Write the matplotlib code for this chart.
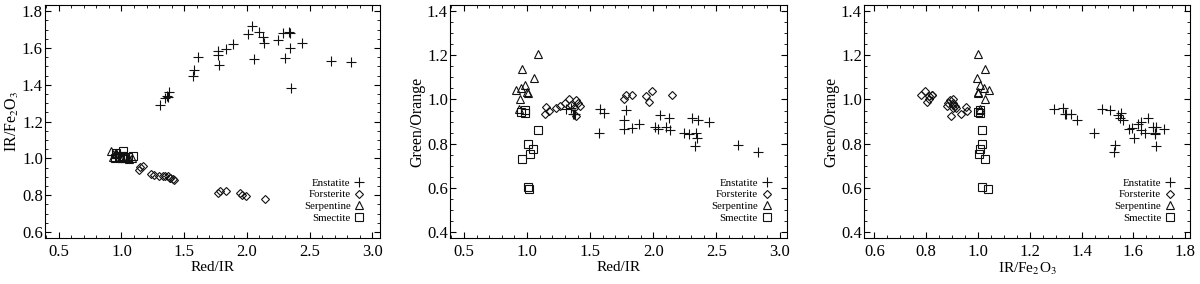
import numpy as np
import matplotlib
matplotlib.use("Agg")
import matplotlib.pyplot as plt
from matplotlib.ticker import MultipleLocator

plt.rcParams['font.family'] = ['Liberation Serif', 'DejaVu Serif']
plt.rcParams['mathtext.fontset'] = 'stix'

# per-sample ratios: Red/IR, IR/Fe2O3, Green/Orange
ens_red_ir = [1.31, 1.35, 1.36, 1.37, 1.38, 1.57, 1.58, 1.61, 1.77, 1.77, 1.78, 1.83, 1.89,
              2.01, 2.04, 2.055, 2.10, 2.127, 2.135, 2.246, 2.286, 2.307, 2.333, 2.344, 2.352,
              2.437, 2.34, 2.669, 2.828]
ens_ir_fe = [1.292, 1.33, 1.34, 1.335, 1.36, 1.446, 1.479, 1.552, 1.561, 1.584, 1.51, 1.595, 1.619,
             1.677, 1.718, 1.541, 1.688, 1.657, 1.628, 1.646, 1.682, 1.548, 1.688, 1.602, 1.383,
             1.628, 1.684, 1.528, 1.524]
ens_g_o = [0.955, 0.96, 0.935, 0.933, 0.932, 0.849, 0.959, 0.94, 0.909, 0.868, 0.951, 0.871, 0.888,
           0.876, 0.868, 0.929, 0.876, 0.917, 0.86, 0.849, 0.845, 0.918, 0.79, 0.826, 0.909,
           0.898, 0.849, 0.793, 0.76]

for_red_ir = [1.143, 1.148, 1.175, 1.233, 1.259, 1.302, 1.333, 1.35, 1.373, 1.385, 1.39, 1.407,
              1.418, 1.77, 1.783, 1.831, 1.942, 1.963, 1.99, 2.148]
for_ir_fe = [0.935, 0.953, 0.959, 0.917, 0.912, 0.905, 0.903, 0.905, 0.903, 0.895, 0.893, 0.885,
             0.881, 0.812, 0.823, 0.821, 0.812, 0.803, 0.794, 0.781]
for_g_o = [0.936, 0.966, 0.947, 0.962, 0.969, 0.985, 1.0, 0.974, 0.963, 0.924, 0.997, 0.982,
           0.969, 1.0, 1.022, 1.02, 1.015, 0.989, 1.037, 1.02]

serp_red_ir = [1.085, 0.958, 1.059, 0.984, 0.953, 0.913, 0.945, 0.998, 1.005, 0.935]
serp_ir_fe = [1.0, 1.028, 0.996, 1.009, 1.022, 1.041, 1.026, 1.0, 1.0, 1.006]
serp_g_o = [1.204, 1.14, 1.095, 1.065, 1.054, 1.042, 1.0, 1.034, 1.03, 0.959]

smec_red_ir = [1.09, 0.96, 1.006, 1.02, 1.05, 1.01, 1.012, 0.98, 0.985, 0.95]
smec_ir_fe = [1.015, 1.028, 1.015, 1.003, 1.009, 1.015, 1.04, 1.006, 1.006, 1.0]
smec_g_o = [0.864, 0.732, 0.80, 0.755, 0.775, 0.604, 0.594, 0.951, 0.94, 0.945]

groups = [
    ("Enstatite", "+", ens_red_ir, ens_ir_fe, ens_g_o),
    ("Forsterite", "D", for_red_ir, for_ir_fe, for_g_o),
    ("Serpentine", "^", serp_red_ir, serp_ir_fe, serp_g_o),
    ("Smectite", "s", smec_red_ir, smec_ir_fe, smec_g_o),
]
msize = {"+": 7, "D": 4, "^": 5.5, "s": 5.5}

fig = plt.figure(figsize=(12, 2.84), dpi=100)
ax1 = fig.add_axes([0.0375, 0.162, 0.279, 0.820])
ax2 = fig.add_axes([0.375, 0.162, 0.281, 0.820])
ax3 = fig.add_axes([0.72, 0.162, 0.272, 0.820])

panels = [
    (ax1, 2, 3, "Red/IR", "IR/Fe$_2$O$_3$"),
    (ax2, 2, 4, "Red/IR", "Green/Orange"),
    (ax3, 3, 4, "IR/Fe$_2$O$_3$", "Green/Orange"),
]

for ax, ix, iy, xl, yl in panels:
    for g in groups:
        ax.plot(g[ix], g[iy], linestyle="none", marker=g[1], markersize=msize[g[1]],
                markerfacecolor="none", markeredgecolor="#111111", markeredgewidth=0.8,
                label=g[0])
    ax.set_xlabel(xl, fontsize=11, labelpad=1)
    ax.set_ylabel(yl, fontsize=11.5, labelpad=1)
    ax.tick_params(which="both", direction="in", top=True, right=True, labelsize=12)
    ax.tick_params(which="major", length=4, width=0.8)
    ax.tick_params(axis="y", which="major", pad=1.5)
    ax.tick_params(axis="x", which="major", pad=4)
    ax.tick_params(which="minor", length=2, width=0.6)
    for s in ax.spines.values():
        s.set_linewidth(0.8)
    leg = ax.legend(loc="lower right", frameon=False, markerfirst=False, fontsize=7.8,
                    handlelength=1.0, handletextpad=0.3, labelspacing=0.2,
                    borderaxespad=1.0)

ax1.set_xlim(0.39, 3.06)
ax1.set_ylim(0.567, 1.833)
ax1.xaxis.set_major_locator(MultipleLocator(0.5))
ax1.xaxis.set_minor_locator(MultipleLocator(0.1))
ax1.yaxis.set_major_locator(MultipleLocator(0.2))
ax1.yaxis.set_minor_locator(MultipleLocator(0.05))

ax2.set_xlim(0.39, 3.06)
ax2.set_ylim(0.373, 1.427)
ax2.xaxis.set_major_locator(MultipleLocator(0.5))
ax2.xaxis.set_minor_locator(MultipleLocator(0.1))
ax2.yaxis.set_major_locator(MultipleLocator(0.2))
ax2.yaxis.set_minor_locator(MultipleLocator(0.05))

ax3.set_xlim(0.56, 1.82)
ax3.set_ylim(0.373, 1.427)
ax3.xaxis.set_major_locator(MultipleLocator(0.2))
ax3.xaxis.set_minor_locator(MultipleLocator(0.05))
ax3.yaxis.set_major_locator(MultipleLocator(0.2))
ax3.yaxis.set_minor_locator(MultipleLocator(0.05))

fig.savefig("out.png", dpi=100)
